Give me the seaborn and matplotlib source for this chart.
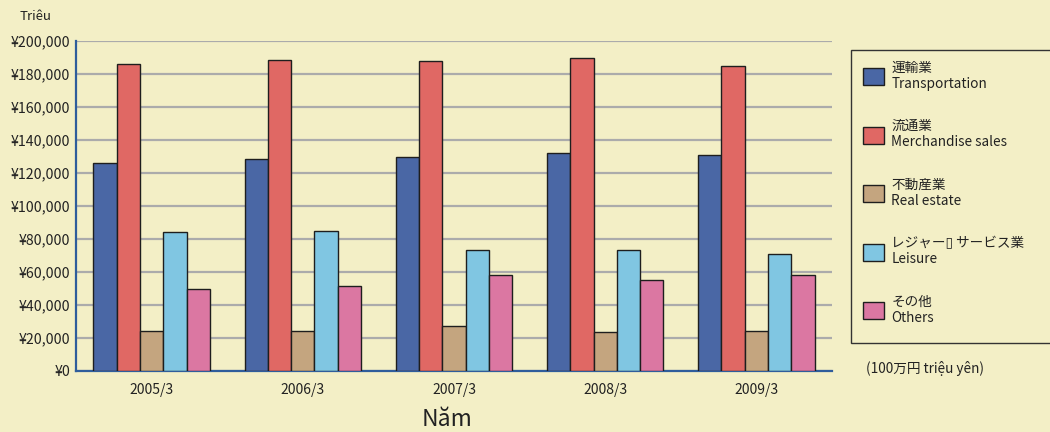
import matplotlib
matplotlib.use("Agg")
import matplotlib.pyplot as plt
from matplotlib.patches import Rectangle
from matplotlib.ticker import FixedLocator, FuncFormatter
import seaborn as sns
import pandas as pd

# Fiscal years (March year-end)
years = ["2005/3", "2006/3", "2007/3", "2008/3", "2009/3"]

# Segment revenue, million yen
transportation = [126000, 128300, 129700, 131900, 130500]
merchandise = [185700, 188100, 187500, 189500, 184700]
real_estate = [24100, 24100, 27100, 23600, 23800]
leisure = [83900, 84500, 73300, 73300, 70500]
others = [49300, 51500, 57800, 55200, 58000]

segments = [
    "運輸業\nTransportation",
    "流通業\nMerchandise sales",
    "不動産業\nReal estate",
    "レジャー\u25af サービス業\nLeisure",
    "その他\nOthers",
]
colors = ["#4A67A5", "#E06864", "#C4A57F", "#80C6E2", "#DB77A2"]

rows = []
for seg, vals in zip(segments, [transportation, merchandise, real_estate, leisure, others]):
    for yr, v in zip(years, vals):
        rows.append({"year": yr, "segment": seg, "value": v})
df = pd.DataFrame(rows)

bg = "#F3EFC6"
sns.set_theme(style="white")
plt.rcParams["font.family"] = ["Noto Sans CJK JP", "DejaVu Sans"]
plt.rcParams["text.color"] = "#222222"

fig = plt.figure(figsize=(10.5, 4.32), dpi=100, facecolor=bg)
ax = fig.add_axes([76 / 1050, 1 - 370.7 / 432, (832 - 76) / 1050, 330 / 432])
ax.set_facecolor(bg)

sns.barplot(
    data=df, x="year", y="value", hue="segment", order=years, hue_order=segments,
    palette=colors, width=0.77, gap=0, edgecolor="#1E1E1E", linewidth=1.0,
    saturation=1, errorbar=None, legend=True, ax=ax, zorder=3,
)

ax.set_xlim(-0.5, 4.5)
ax.set_ylim(0, 200000)
ax.yaxis.set_major_locator(FixedLocator(range(0, 200001, 20000)))
ax.yaxis.set_major_formatter(FuncFormatter(lambda v, p: "¥" + format(int(v), ",")))
ax.grid(axis="y", color="#ABABAB", linewidth=1.6, zorder=0)
ax.set_axisbelow(True)

for side in ("top", "right"):
    ax.spines[side].set_visible(False)
for side in ("left", "bottom"):
    ax.spines[side].set_color("#2F5D9B")
    ax.spines[side].set_linewidth(1.6)

ax.tick_params(axis="x", which="major", length=0, pad=9, labelsize=10, labelcolor="#222222")
ax.tick_params(axis="y", which="major", length=0, pad=4, labelsize=10.2, labelcolor="#222222")
ax.xaxis.set_minor_locator(FixedLocator([0.5, 1.5, 2.5, 3.5, 4.5]))
ax.tick_params(axis="x", which="minor", direction="in", length=4, width=1, color="#333333")
ax.set_xlabel("")
ax.set_ylabel("")

# Legend panel
handles, labels = ax.get_legend_handles_labels()
ax.get_legend().remove()
fig.patches.append(Rectangle((851 / 1050, 1 - 343 / 432), 0.2, (343 - 50) / 432,
                             transform=fig.transFigure, facecolor=bg,
                             edgecolor="#333333", linewidth=1.0, zorder=0))
leg = fig.legend(handles, labels, loc="upper left",
                 bbox_to_anchor=(858 / 1050, 1 - 55 / 432),
                 frameon=False, fontsize=9.8, handlelength=1.5, handleheight=1.55,
                 handletextpad=0.55, labelspacing=2.08, borderaxespad=0)
for t in leg.get_texts():
    t.set_linespacing(1.2)
    t.set_color("#222222")

fig.text(20 / 1050, 1 - 17 / 432, "Triêu", fontsize=9.5, ha="left", va="center")
fig.text(866 / 1050, 1 - 369 / 432, "(100万円 triệu yên)", fontsize=9.8, ha="left", va="center")
fig.text(447 / 1050, 1 - 419 / 432, "Năm", fontsize=16.5, ha="center", va="center")

fig.savefig("out.png", dpi=100, facecolor=bg)
